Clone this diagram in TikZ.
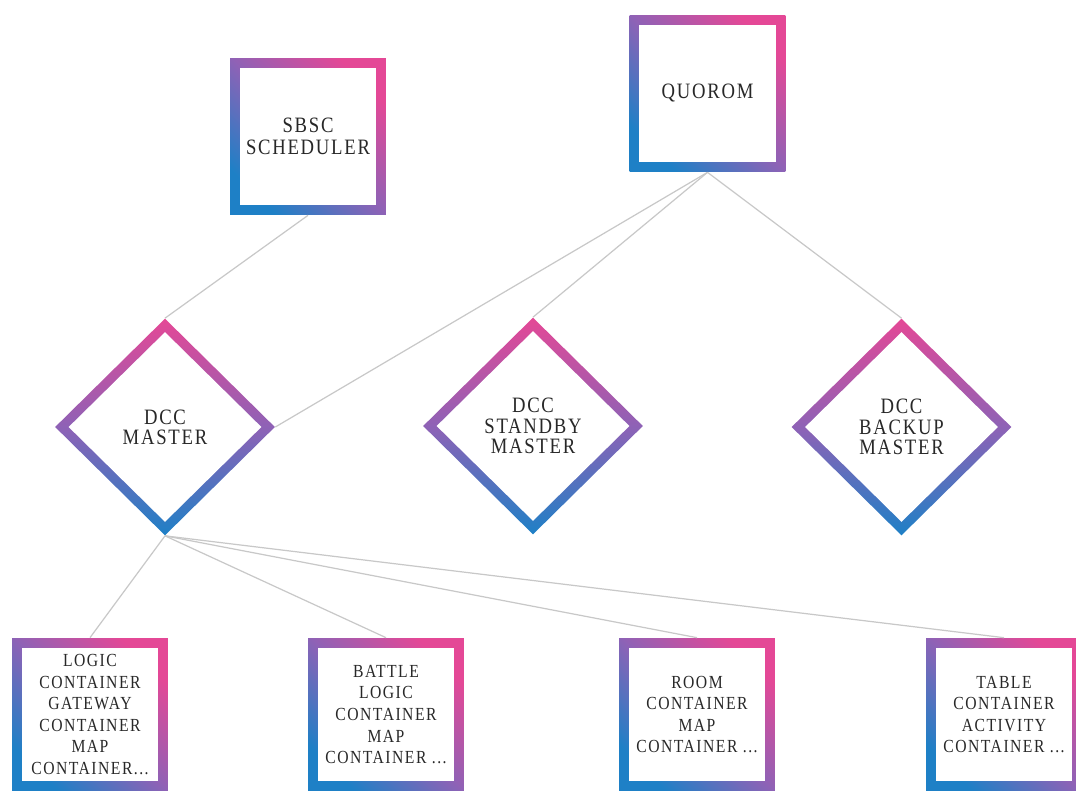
\documentclass[tikz,border=0pt]{standalone}
\usepackage{fontspec}
\usetikzlibrary{shapes.geometric,shadings}
\newfontfamily\tagfont[LetterSpace=8,FakeStretch=0.85]{Liberation Serif}
\definecolor{gpink}{RGB}{228,72,150}
\definecolor{gviolet}{RGB}{142,98,182}
\definecolor{gblue}{RGB}{30,128,198}
\definecolor{ink}{RGB}{40,40,40}
\definecolor{wire}{RGB}{200,200,200}
\def\bw{0.19cm}
\def\dw{0.27cm}

\begin{document}
\begin{tikzpicture}[x=0.02cm, y=-0.02cm,
    sq/.style={rectangle, inner sep=0pt, minimum width=3.12cm, minimum height=#1,
               top color=gpink, bottom color=gblue, middle color=gviolet, shading angle=-45,
               path picture={\fill[white] ([shift={(\bw,\bw)}]path picture bounding box.south west)
                 rectangle ([shift={(-\bw,-\bw)}]path picture bounding box.north east);},
               text=ink, align=center},
    dia/.style={diamond, aspect=1, inner sep=0pt, minimum width=4.4cm, minimum height=4.34cm,
               top color=gpink, bottom color=gblue, middle color=gviolet,
               path picture={\fill[white] ([yshift=-\dw]path picture bounding box.north)
                 -- ([xshift=-\dw]path picture bounding box.east)
                 -- ([yshift=\dw]path picture bounding box.south)
                 -- ([xshift=\dw]path picture bounding box.west) -- cycle;},
               text=ink, align=center, font=\tagfont\fontsize{12.5}{11.5}\selectfont},
    big/.style={font=\tagfont\fontsize{12.5}{12.5}\selectfont},
    small/.style={font=\tagfont\fontsize{10.5}{12.3}\selectfont},
    link/.style={draw=wire, line width=0.7pt}]

    \useasboundingbox (0,0) rectangle (1076,792);

    % top boxes
    \node[sq=3.14cm, big] (sbsc)   at (308,136.5) {SBSC\\SCHEDULER};
    \node[sq=3.14cm, big] (quorom) at (707.5,93.5) {QUOROM};

    % masters
    \node[dia] (master)  at (165,427)   {DCC\\MASTER};
    \node[dia] (standby) at (533,426)   {DCC\\STANDBY\\MASTER};
    \node[dia] (backup)  at (901.5,427) {DCC\\BACKUP\\MASTER};

    % containers
    \node[sq=3.06cm, small] (logic)  at (90,714.5)   {LOGIC\\CONTAINER\\GATEWAY\\CONTAINER\\MAP\\CONTAINER...};
    \node[sq=3.06cm, small] (battle) at (386,714.5)  {BATTLE\\LOGIC\\CONTAINER\\MAP\\CONTAINER ...};
    \node[sq=3.06cm, small] (room)   at (697,714.5)  {ROOM\\CONTAINER\\MAP\\CONTAINER ...};
    \node[sq=3.06cm, small] (table)  at (1004,714.5) {TABLE\\CONTAINER\\ACTIVITY\\CONTAINER ...};

    \draw[link] (sbsc.south)   -- (master.north);
    \draw[link] (quorom.south) -- (master.east);
    \draw[link] (quorom.south) -- (standby.north);
    \draw[link] (quorom.south) -- (backup.north);

    \draw[link] (master.south) -- (logic.north);
    \draw[link] (master.south) -- (battle.north);
    \draw[link] (master.south) -- (room.north);
    \draw[link] (master.south) -- (table.north);
\end{tikzpicture}
\end{document}
